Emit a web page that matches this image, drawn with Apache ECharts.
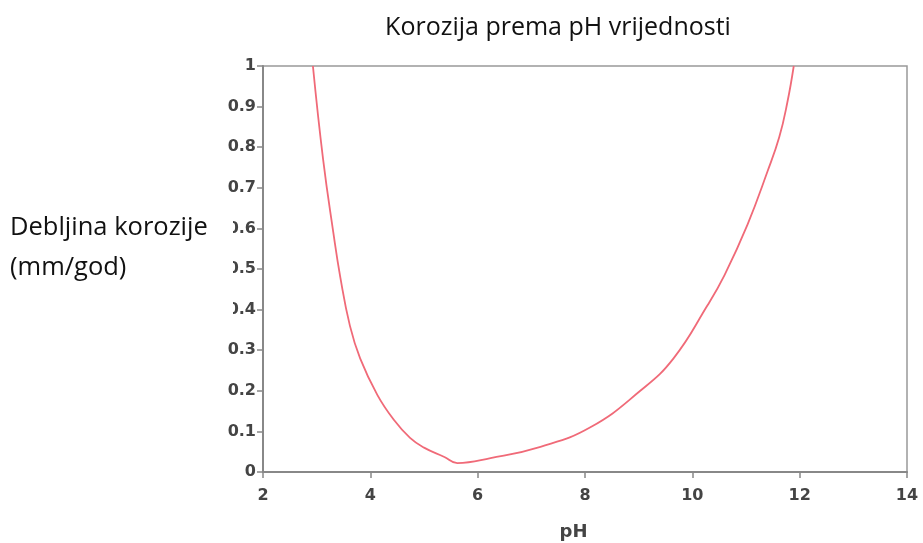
<!DOCTYPE html>
<html>
<head>
<meta charset="utf-8">
<script src="https://cdn.jsdelivr.net/npm/echarts@6/dist/echarts.min.js"></script>
<style>
  html, body { margin: 0; padding: 0; background: #fff; }
  #chart { width: 923px; height: 543px; }
</style>
</head>
<body>
<div id="chart"></div>
<script>
// pH vs debljina korozije (mm/god), procitano sa slike
var phValues = [2.93, 3.12, 3.31, 3.44, 3.62, 3.81, 4.13, 4.43, 4.74, 5.0, 5.38, 5.62,
                6.24, 7.17, 8.1, 9.03, 9.65, 10.28, 10.6, 11.03, 11.4, 11.62, 11.77, 11.89];
var corrosion = [1.0, 0.77, 0.59, 0.48, 0.36, 0.28, 0.19, 0.13, 0.084, 0.06, 0.037, 0.022,
                 0.034, 0.062, 0.11, 0.2, 0.28, 0.41, 0.485, 0.61, 0.74, 0.825, 0.91, 1.0];
var titleText = 'Korozija prema pH vrijednosti';
var yLabel = 'Debljina korozije\n(mm/god)';

var seriesData = phValues.map(function (x, i) { return [x, corrosion[i]]; });

var myChart = echarts.init(document.getElementById('chart'));
var option = {
    backgroundColor: '#fff',
    animation: false,
    title: {
        text: titleText,
        left: 553,
        top: 10,
        textAlign: 'center',
        textStyle: { fontFamily: 'Open Sans', fontSize: 25, fontWeight: 'normal', color: '#111' }
    },
    grid: {
        left: 263, right: 16, top: 66, bottom: 71,
        outerBoundsMode: 'none',
        containLabel: false,
        show: true, borderColor: '#999', borderWidth: 1.5
    },
    xAxis: {
        type: 'value',
        min: 2, max: 14, interval: 2,
        name: 'pH',
        nameLocation: 'middle',
        nameGap: 51,
        nameTextStyle: { fontFamily: 'DejaVu Sans', fontWeight: 'bold', fontSize: 18, color: '#444', padding: [0, 23, 0, 0] },
        axisLine: { lineStyle: { color: '#888', width: 2 } },
        axisTick: { show: true, length: 6, lineStyle: { color: '#888', width: 1.5 } },
        axisLabel: { fontFamily: 'DejaVu Sans', fontWeight: 'bold', fontSize: 16, color: '#444', margin: 16 },
        splitLine: { show: false }
    },
    yAxis: {
        type: 'value',
        min: 0, max: 1, interval: 0.1,
        axisLine: { show: true, lineStyle: { color: '#888', width: 2 } },
        axisTick: { show: true, length: 6, lineStyle: { color: '#888', width: 1.5 } },
        axisLabel: {
            fontFamily: 'DejaVu Sans', fontWeight: 'bold', fontSize: 16, color: '#444', margin: 7,
            formatter: function (v) { return Math.round(v * 10) / 10 + ''; }
        },
        splitLine: { show: false }
    },
    series: [{
        type: 'line',
        data: seriesData,
        smooth: 0.45,
        showSymbol: false,
        lineStyle: { color: '#f06a78', width: 1.8 }
    }],
    graphic: [{
        type: 'rect',
        left: 0, top: 203,
        shape: { width: 233, height: 120 },
        style: { fill: '#fff' },
        z: 100
    }, {
        type: 'text',
        left: 10, top: 208,
        style: {
            text: yLabel,
            font: '25.5px "Open Sans"',
            fill: '#111',
            lineHeight: 40
        },
        z: 101
    }]
};
myChart.setOption(option);
</script>
</body>
</html>
